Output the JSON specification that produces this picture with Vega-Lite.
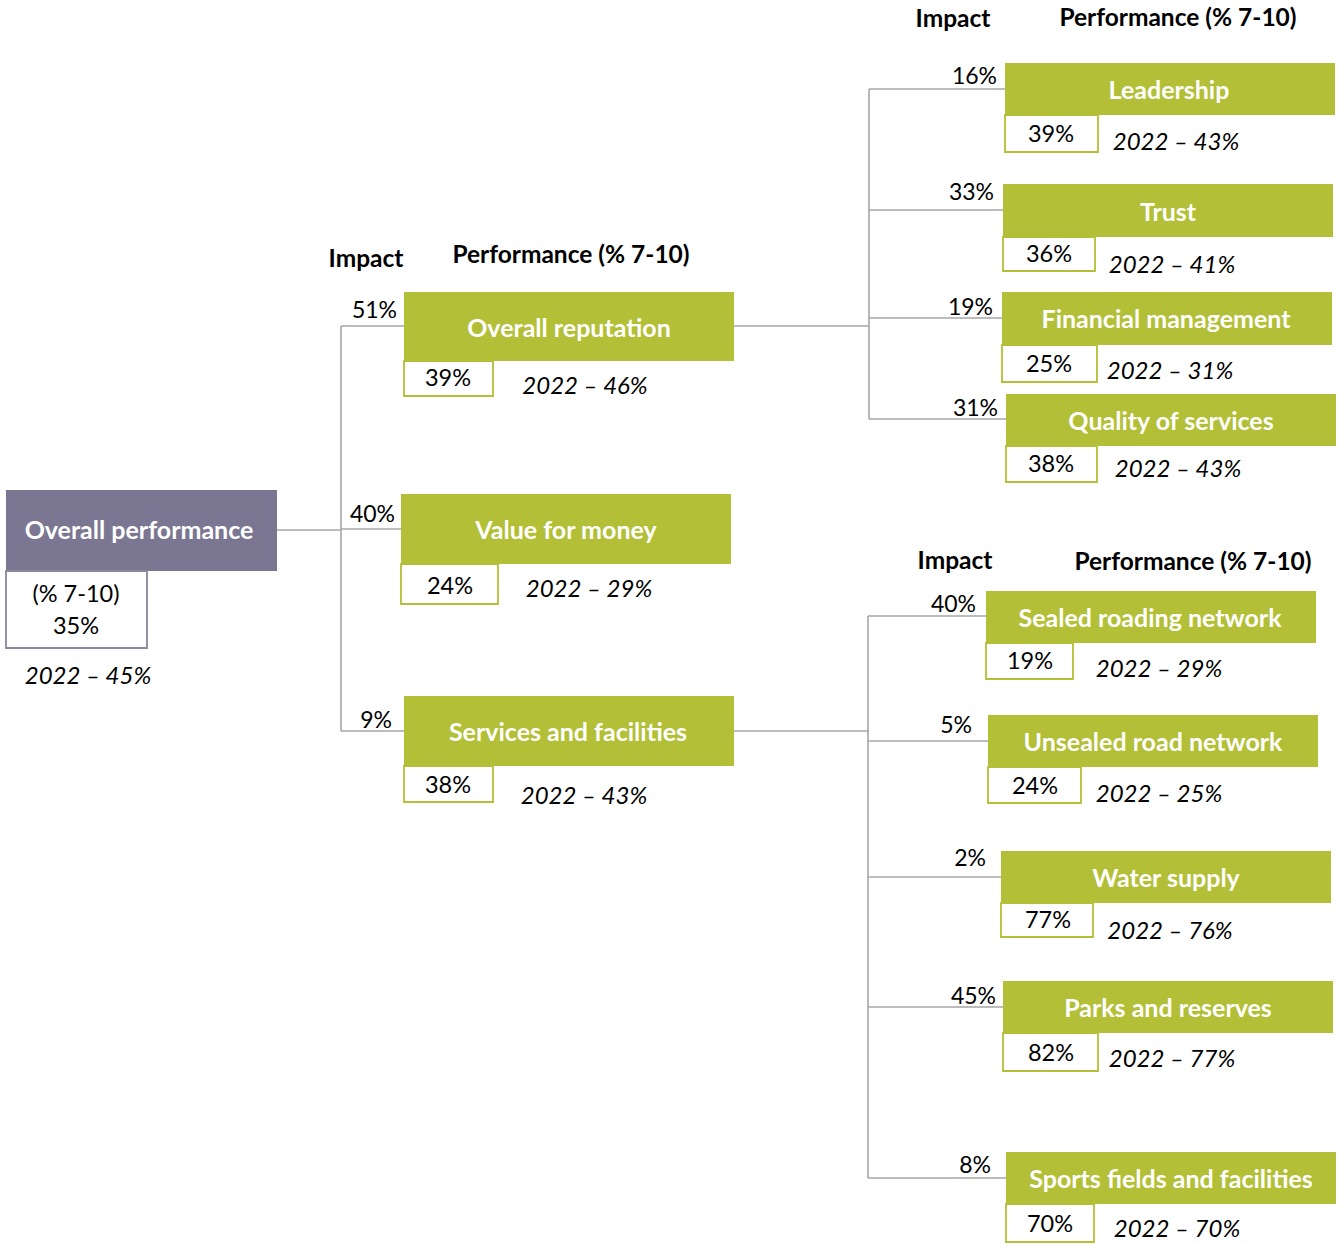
{
  "$schema": "https://vega.github.io/schema/vega-lite/v6.json",
  "width": 1343,
  "height": 1244,
  "padding": 0,
  "autosize": {"type": "fit", "contains": "padding"},
  "background": "white",
  "config": {"view": {"stroke": null}, "font": "Lato"},
  "datasets": {
    "nodes": [
      {"label": "Overall performance", "level": "root", "bx": 6, "bx2": 277, "by": 490, "by2": 571, "vx2": 147, "vy2": 648, "lx": 139, "ly": 531, "perf": "(% 7-10)\n35%", "px": 76, "py": 595, "prev": "2022 – 45%", "rx": 88, "ry": 677, "impact": "", "ix": 300, "iy": 530},
      {"label": "Overall reputation", "level": "child", "bx": 404, "bx2": 734, "by": 292, "by2": 361, "vx2": 493, "vy2": 396, "lx": 569, "ly": 329, "perf": "39%", "px": 448, "py": 379, "prev": "2022 – 46%", "rx": 585, "ry": 387, "impact": "51%", "ix": 397, "iy": 311},
      {"label": "Value for money", "level": "child", "bx": 401, "bx2": 731, "by": 494, "by2": 564, "vx2": 498, "vy2": 604, "lx": 566, "ly": 531, "perf": "24%", "px": 450, "py": 587, "prev": "2022 – 29%", "rx": 589, "ry": 590, "impact": "40%", "ix": 395, "iy": 515},
      {"label": "Services and facilities", "level": "child", "bx": 404, "bx2": 734, "by": 696, "by2": 766, "vx2": 493, "vy2": 802, "lx": 568, "ly": 733, "perf": "38%", "px": 448, "py": 786, "prev": "2022 – 43%", "rx": 584, "ry": 797, "impact": "9%", "ix": 392, "iy": 721},
      {"label": "Leadership", "level": "child", "bx": 1005, "bx2": 1335, "by": 63, "by2": 115, "vx2": 1098, "vy2": 152, "lx": 1169, "ly": 91, "perf": "39%", "px": 1051, "py": 135, "prev": "2022 – 43%", "rx": 1176, "ry": 143, "impact": "16%", "ix": 997, "iy": 77},
      {"label": "Trust", "level": "child", "bx": 1003, "bx2": 1333, "by": 184, "by2": 237, "vx2": 1095, "vy2": 271, "lx": 1168, "ly": 213, "perf": "36%", "px": 1049, "py": 255, "prev": "2022 – 41%", "rx": 1172, "ry": 266, "impact": "33%", "ix": 994, "iy": 193},
      {"label": "Financial management", "level": "child", "bx": 1002, "bx2": 1332, "by": 292, "by2": 345, "vx2": 1097, "vy2": 382, "lx": 1166, "ly": 320, "perf": "25%", "px": 1049, "py": 365, "prev": "2022 – 31%", "rx": 1170, "ry": 372, "impact": "19%", "ix": 993, "iy": 308},
      {"label": "Quality of services", "level": "child", "bx": 1006, "bx2": 1336, "by": 394, "by2": 446, "vx2": 1097, "vy2": 482, "lx": 1171, "ly": 422, "perf": "38%", "px": 1051, "py": 465, "prev": "2022 – 43%", "rx": 1178, "ry": 470, "impact": "31%", "ix": 998, "iy": 409},
      {"label": "Sealed roading network", "level": "child", "bx": 986, "bx2": 1316, "by": 591, "by2": 643, "vx2": 1073, "vy2": 679, "lx": 1150, "ly": 619, "perf": "19%", "px": 1030, "py": 662, "prev": "2022 – 29%", "rx": 1159, "ry": 670, "impact": "40%", "ix": 976, "iy": 605},
      {"label": "Unsealed road network", "level": "child", "bx": 988, "bx2": 1318, "by": 715, "by2": 767, "vx2": 1081, "vy2": 803, "lx": 1153, "ly": 743, "perf": "24%", "px": 1035, "py": 787, "prev": "2022 – 25%", "rx": 1159, "ry": 795, "impact": "5%", "ix": 972, "iy": 726},
      {"label": "Water supply", "level": "child", "bx": 1001, "bx2": 1331, "by": 851, "by2": 903, "vx2": 1093, "vy2": 937, "lx": 1166, "ly": 879, "perf": "77%", "px": 1048, "py": 921, "prev": "2022 – 76%", "rx": 1170, "ry": 932, "impact": "2%", "ix": 986, "iy": 859},
      {"label": "Parks and reserves", "level": "child", "bx": 1003, "bx2": 1333, "by": 981, "by2": 1033, "vx2": 1098, "vy2": 1071, "lx": 1168, "ly": 1009, "perf": "82%", "px": 1051, "py": 1054, "prev": "2022 – 77%", "rx": 1172, "ry": 1060, "impact": "45%", "ix": 996, "iy": 997},
      {"label": "Sports fields and facilities", "level": "child", "bx": 1006, "bx2": 1336, "by": 1152, "by2": 1204, "vx2": 1094, "vy2": 1242, "lx": 1171, "ly": 1180, "perf": "70%", "px": 1050, "py": 1225, "prev": "2022 – 70%", "rx": 1177, "ry": 1230, "impact": "8%", "ix": 991, "iy": 1166}
    ],
    "links": [
      {"x": 277, "y": 530, "x2": 341, "y2": 530},
      {"x": 341, "y": 326, "x2": 341, "y2": 731},
      {"x": 341, "y": 326, "x2": 404, "y2": 326},
      {"x": 341, "y": 529, "x2": 401, "y2": 529},
      {"x": 341, "y": 731, "x2": 404, "y2": 731},
      {"x": 734, "y": 326, "x2": 869, "y2": 326},
      {"x": 869, "y": 89, "x2": 869, "y2": 419},
      {"x": 869, "y": 89, "x2": 1005, "y2": 89},
      {"x": 869, "y": 210, "x2": 1003, "y2": 210},
      {"x": 869, "y": 318, "x2": 1002, "y2": 318},
      {"x": 869, "y": 419, "x2": 1006, "y2": 419},
      {"x": 734, "y": 731, "x2": 869, "y2": 731},
      {"x": 868, "y": 616, "x2": 868, "y2": 1178},
      {"x": 868, "y": 616, "x2": 986, "y2": 616},
      {"x": 868, "y": 741, "x2": 988, "y2": 741},
      {"x": 868, "y": 877, "x2": 1001, "y2": 877},
      {"x": 868, "y": 1007, "x2": 1003, "y2": 1007},
      {"x": 868, "y": 1178, "x2": 1006, "y2": 1178}
    ],
    "headers": [
      {"text": "Impact", "x": 366, "y": 260},
      {"text": "Performance (% 7-10)", "x": 571, "y": 256},
      {"text": "Impact", "x": 953, "y": 20},
      {"text": "Performance (% 7-10)", "x": 1178, "y": 19},
      {"text": "Impact", "x": 955, "y": 562},
      {"text": "Performance (% 7-10)", "x": 1193, "y": 563}
    ]
  },
  "layer": [
    {
      "data": {"name": "links"},
      "mark": {"type": "rule", "color": "#a6a6a6", "strokeWidth": 1.6},
      "encoding": {
        "x": {"field": "x", "type": "quantitative", "scale": {"domain": [0, 1343], "nice": false, "zero": false}, "axis": null},
        "y": {"field": "y", "type": "quantitative", "scale": {"domain": [0, 1244], "nice": false, "zero": false, "reverse": true}, "axis": null},
        "x2": {"field": "x2"},
        "y2": {"field": "y2"}
      }
    },
    {
      "data": {"name": "nodes"},
      "mark": {"type": "rect"},
      "encoding": {
        "x": {"field": "bx", "type": "quantitative", "scale": {"domain": [0, 1343], "nice": false, "zero": false}, "axis": null},
        "x2": {"field": "bx2"},
        "y": {"field": "by", "type": "quantitative", "scale": {"domain": [0, 1244], "nice": false, "zero": false, "reverse": true}, "axis": null},
        "y2": {"field": "by2"},
        "fill": {"field": "level", "type": "nominal", "scale": {"domain": ["root", "child"], "range": ["#7b7792", "#b3bf36"]}, "legend": null}
      }
    },
    {
      "data": {"name": "nodes"},
      "mark": {"type": "rect", "fill": "white", "strokeWidth": 1.8},
      "encoding": {
        "x": {"field": "bx", "type": "quantitative", "axis": null},
        "x2": {"field": "vx2"},
        "y": {"field": "by2", "type": "quantitative", "axis": null},
        "y2": {"field": "vy2"},
        "stroke": {"field": "level", "type": "nominal", "scale": {"domain": ["root", "child"], "range": ["#8a879e", "#b3bf36"]}, "legend": null}
      }
    },
    {
      "data": {"name": "nodes"},
      "mark": {"type": "text", "color": "white", "fontWeight": "bold", "fontSize": 25, "align": "center", "baseline": "middle"},
      "encoding": {
        "x": {"field": "lx", "type": "quantitative", "axis": null},
        "y": {"field": "ly", "type": "quantitative", "axis": null},
        "text": {"field": "label"}
      }
    },
    {
      "data": {"name": "nodes"},
      "mark": {"type": "text", "color": "black", "fontSize": 23.5, "align": "center", "baseline": "middle", "lineBreak": "\n", "lineHeight": 32},
      "encoding": {
        "x": {"field": "px", "type": "quantitative", "axis": null},
        "y": {"field": "py", "type": "quantitative", "axis": null},
        "text": {"field": "perf"}
      }
    },
    {
      "data": {"name": "nodes"},
      "mark": {"type": "text", "color": "black", "fontSize": 24, "fontStyle": "italic", "align": "center", "baseline": "middle"},
      "encoding": {
        "x": {"field": "rx", "type": "quantitative", "axis": null},
        "y": {"field": "ry", "type": "quantitative", "axis": null},
        "text": {"field": "prev"}
      }
    },
    {
      "data": {"name": "nodes"},
      "transform": [{"filter": "datum.impact != ''"}],
      "mark": {"type": "text", "color": "black", "fontSize": 23, "align": "right", "baseline": "middle"},
      "encoding": {
        "x": {"field": "ix", "type": "quantitative", "axis": null},
        "y": {"field": "iy", "type": "quantitative", "axis": null},
        "text": {"field": "impact"}
      }
    },
    {
      "data": {"name": "headers"},
      "mark": {"type": "text", "color": "black", "fontSize": 24.5, "fontWeight": "bold", "align": "center", "baseline": "middle"},
      "encoding": {
        "x": {"field": "x", "type": "quantitative", "axis": null},
        "y": {"field": "y", "type": "quantitative", "axis": null},
        "text": {"field": "text"}
      }
    }
  ]
}
